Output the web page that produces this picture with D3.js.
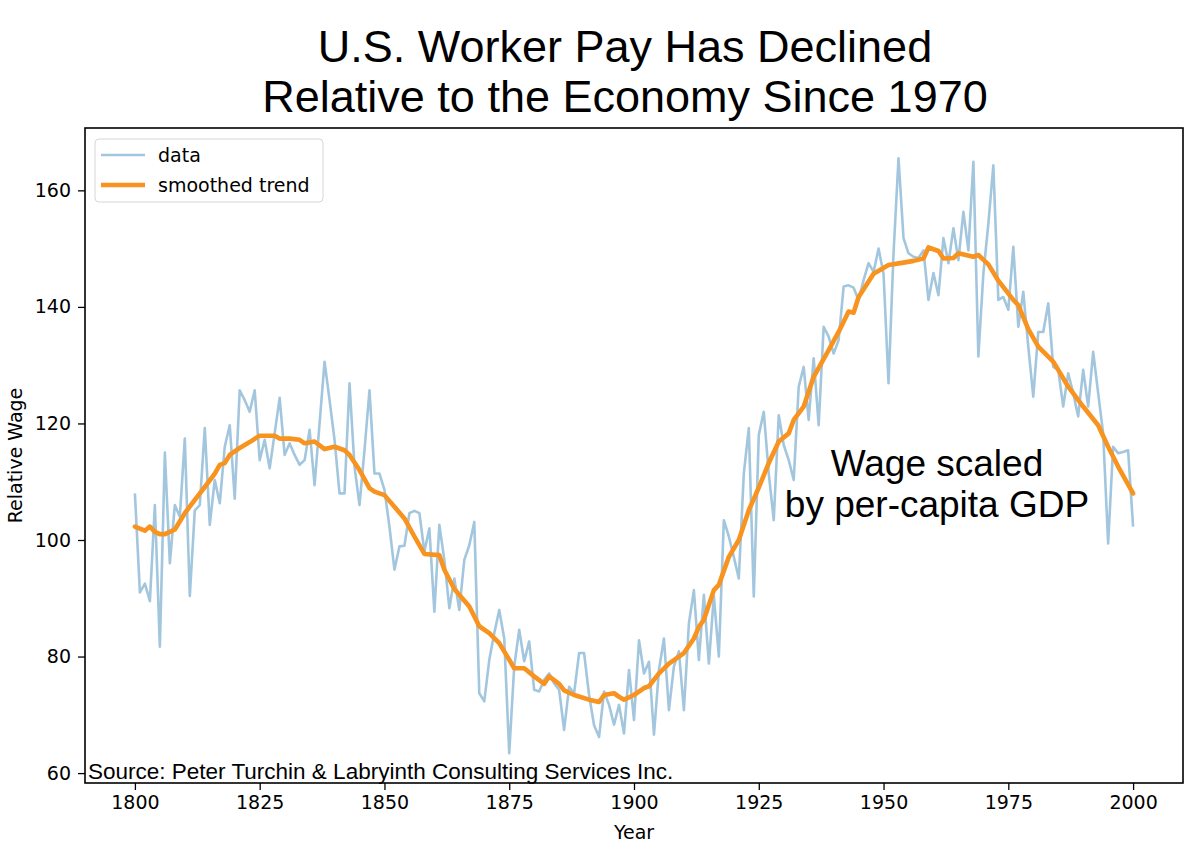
<!DOCTYPE html>
<html lang="en">
<head>
<meta charset="utf-8">
<title>U.S. Worker Pay Relative to the Economy</title>
<script src="https://d3js.org/d3.v7.min.js"></script>
<style>
  body { margin: 0; background: #fff; }
  .tick text { font-family: "DejaVu Sans", sans-serif; font-size: 19px; fill: #000; }
  .tick line { stroke: #000; stroke-width: 1.3; }
</style>
</head>
<body>
<script>

// yearly relative wage, 1800-2000
var startYear = 1800;
var wage = [
  108, 91, 92.5, 89.5, 106, 81.7, 115, 96, 106, 104,
  117.4, 90.4, 105.1, 106, 119.2, 102.6, 110.3, 106.3, 116, 119.7,
  107.1, 125.7, 124, 122, 125.7, 113.7, 117.2, 112.3, 118.3, 124.4,
  114.6, 116.6, 114.6, 112.9, 113.7, 118.9, 109.4, 120, 130.6, 124,
  117.2, 108, 108, 126.9, 112.6, 106, 115.4, 125.7, 111.4, 111.4,
  108.6, 102.3, 94.9, 98.9, 99, 104.6, 105, 104.6, 98, 102,
  87.7, 102.6, 96.6, 88.3, 93.4, 88, 96.6, 99.1, 103.1, 73.7,
  72.3, 79.4, 84, 88, 83.1, 63.4, 78.3, 84.6, 79.2, 82.6,
  74.3, 74, 76, 77.1, 75.4, 74.3, 67.4, 74.8, 73.7, 80.6,
  80.6, 73.4, 68.2, 66.2, 74, 71.7, 68.3, 71.7, 66.8, 77.7,
  69.1, 82.8, 77.1, 79.1, 66.6, 77.7, 83.1, 70.8, 78.3, 80.9,
  70.8, 85.7, 91.4, 79.4, 90.6, 78.8, 90.4, 80, 103.4, 100.6,
  97.1, 93.4, 111.4, 119.2, 90.3, 118, 122, 111.4, 103.4, 121.4,
  116.3, 113.7, 110.3, 126.3, 129.7, 120.6, 131.2, 119.7, 136.6, 134.9,
  132, 134.3, 143.5, 143.7, 143.3, 141.2, 144.6, 147.5, 146, 150,
  145.7, 126.9, 149.2, 165.5, 151.8, 149.2, 148.6, 148.4, 149.7, 141.2,
  145.8, 142, 151.8, 147.5, 153.5, 148, 156.3, 149.7, 164.9, 131.5,
  145.7, 154.3, 164.3, 141.2, 141.7, 139.5, 150.3, 136.6, 142.6, 133.2,
  124.6, 135.7, 135.7, 140.6, 129.7, 129.2, 122.9, 128.6, 125.2, 121.2,
  129.2, 122.9, 132.3, 125.2, 118.3, 99.4, 116, 114.9, 115.1, 115.4,
  102.3
];

// smoothed trend, read at the points where it bends
var trendYears = [1800, 1802, 1803, 1804, 1805, 1806, 1807, 1808, 1810, 1812, 1814, 1816, 1817, 1818, 1819,
  1821, 1823, 1825, 1828, 1829, 1831, 1833, 1834, 1836, 1838, 1840, 1842, 1843, 1845, 1847, 1848,
  1850, 1852, 1854, 1856, 1858, 1861, 1862, 1864, 1867, 1869, 1871, 1873, 1876, 1878, 1880, 1882,
  1883, 1885, 1886, 1888, 1891, 1893, 1894, 1896, 1897, 1898, 1900, 1902, 1903, 1905, 1907, 1909,
  1910, 1912, 1913, 1914, 1916, 1917, 1919, 1921, 1923, 1925, 1927, 1929, 1931, 1932, 1934, 1936,
  1939, 1941, 1943, 1944, 1945, 1948, 1951, 1954, 1956, 1958, 1959, 1961, 1962, 1964, 1965, 1968,
  1969, 1971, 1973, 1976, 1977, 1979, 1981, 1984, 1985, 1987, 1990, 1993, 1995, 1997, 2000];
var trendValues = [102.3, 101.6, 102.3, 101.4, 101.0, 101.0, 101.4, 101.8, 104.6, 106.9, 109.1, 111.4, 112.9, 113.2, 114.6,
  115.8, 116.8, 117.9, 117.9, 117.4, 117.4, 117.2, 116.6, 116.9, 115.6, 116.0, 115.4, 114.6, 112.0, 108.9, 108.3,
  107.7, 105.7, 103.7, 100.6, 97.6, 97.4, 94.9, 91.6, 88.6, 85.2, 84.0, 82.3, 78.0, 78.0, 76.6, 75.3,
  76.6, 75.3, 74.2, 73.4, 72.6, 72.2, 73.4, 73.7, 73.1, 72.6, 73.4, 74.6, 74.9, 77.1, 78.8, 80.0,
  80.6, 83.1, 85.1, 86.3, 91.4, 92.3, 97.1, 100.0, 105.1, 109.0, 113.2, 116.9, 118.3, 120.6, 122.9, 128.0,
  132.6, 135.7, 139.2, 139.0, 141.7, 145.7, 147.2, 147.6, 147.9, 148.3, 150.2, 149.6, 148.3, 148.4, 149.2, 148.6,
  148.9, 147.3, 144.5, 141.2, 140.3, 136.2, 133.2, 130.6, 129.2, 126.3, 122.9, 119.7, 116.0, 112.6, 108.0];

var xTicks = [1800, 1825, 1850, 1875, 1900, 1925, 1950, 1975, 2000];
var yTicks = [60, 80, 100, 120, 140, 160];

var titleLines = ["U.S. Worker Pay Has Declined", "Relative to the Economy Since 1970"];
var noteLines = ["Wage scaled", "by per-capita GDP"];
var sourceText = "Source: Peter Turchin & Labryinth Consulting Services Inc.";

var w = 1200, h = 865;
var plotL = 85, plotR = 1183, plotT = 128, plotB = 783;
var dataColor = "#a3c6df", trendColor = "#f7931e";

var svg = d3.select("body").append("svg")
    .attr("width", w)
    .attr("height", h);

var x = d3.scaleLinear().domain([1790, 2010]).range([plotL, plotR]);
var y = d3.scaleLinear().domain([58.3, 170.7]).range([plotB, plotT]);

// title
svg.selectAll(".title")
   .data(titleLines)
   .enter().append("text")
   .attr("x", 625)
   .attr("y", function(d, i) { return 62 + i * 50; })
   .attr("text-anchor", "middle")
   .style("font-family", "'Liberation Sans', Arial, sans-serif")
   .style("font-size", "45px")
   .text(function(d) { return d; });

// axes
svg.append("g")
   .attr("transform", "translate(0," + plotB + ")")
   .call(d3.axisBottom(x).tickValues(xTicks).tickFormat(d3.format("d")).tickSize(7).tickPadding(6))
   .call(function(g) { g.select(".domain").remove(); });

svg.append("g")
   .attr("transform", "translate(" + plotL + ",0)")
   .call(d3.axisLeft(y).tickValues(yTicks).tickSize(7).tickPadding(7))
   .call(function(g) { g.select(".domain").remove(); });

svg.append("text")
   .attr("x", 634)
   .attr("y", 839)
   .attr("text-anchor", "middle")
   .style("font-family", "'DejaVu Sans', sans-serif")
   .style("font-size", "19px")
   .text("Year");

svg.append("text")
   .attr("transform", "translate(22," + ((plotT + plotB) / 2) + ") rotate(-90)")
   .attr("text-anchor", "middle")
   .style("font-family", "'DejaVu Sans', sans-serif")
   .style("font-size", "19px")
   .text("Relative Wage");

// lines
var line = d3.line()
    .x(function(d) { return x(d[0]); })
    .y(function(d) { return y(d[1]); });

var dataPts = wage.map(function(v, i) { return [startYear + i, v]; });
var trendPts = trendYears.map(function(yr, i) { return [yr, trendValues[i]]; });

svg.append("path")
   .datum(dataPts)
   .attr("d", line)
   .attr("fill", "none")
   .attr("stroke", dataColor)
   .attr("stroke-width", 2.6)
   .attr("stroke-linejoin", "round");

svg.append("path")
   .datum(trendPts)
   .attr("d", line)
   .attr("fill", "none")
   .attr("stroke", trendColor)
   .attr("stroke-width", 4.6)
   .attr("stroke-linejoin", "round")
   .attr("stroke-linecap", "round");

// frame
svg.append("rect")
   .attr("x", plotL).attr("y", plotT)
   .attr("width", plotR - plotL).attr("height", plotB - plotT)
   .attr("fill", "none")
   .attr("stroke", "#000")
   .attr("stroke-width", 1.6);

// legend
var legend = svg.append("g").attr("transform", "translate(95,139)");
legend.append("rect")
   .attr("width", 228).attr("height", 63).attr("rx", 4)
   .attr("fill", "#fff").attr("fill-opacity", 0.8)
   .attr("stroke", "#d6d6d6");
var items = [["data", dataColor, 2.6], ["smoothed trend", trendColor, 4.6]];
items.forEach(function(it, i) {
    var ly = 16 + i * 30;
    legend.append("line")
       .attr("x1", 6).attr("x2", 50).attr("y1", ly).attr("y2", ly)
       .attr("stroke", it[1]).attr("stroke-width", it[2]);
    legend.append("text")
       .attr("x", 63).attr("y", ly)
       .attr("dy", "0.35em")
       .style("font-family", "'DejaVu Sans', sans-serif")
       .style("font-size", "19px")
       .text(it[0]);
});

// annotation
svg.selectAll(".note")
   .data(noteLines)
   .enter().append("text")
   .attr("x", 937)
   .attr("y", function(d, i) { return 476 + i * 41; })
   .attr("text-anchor", "middle")
   .style("font-family", "'Liberation Sans', Arial, sans-serif")
   .style("font-size", "37px")
   .text(function(d) { return d; });

svg.append("text")
   .attr("x", 88)
   .attr("y", 779)
   .style("font-family", "'Liberation Sans', Arial, sans-serif")
   .style("font-size", "22.5px")
   .text(sourceText);

</script>
</body>
</html>
